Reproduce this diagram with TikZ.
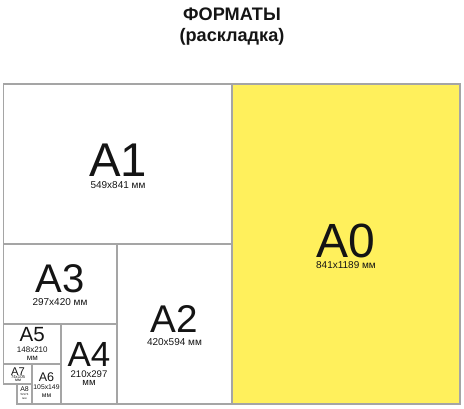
\documentclass[tikz,border=0pt]{standalone}
\usepackage{fontspec}
\setmainfont{Liberation Sans}
\definecolor{paperyellow}{RGB}{255,240,92}
\definecolor{edgegray}{RGB}{165,165,165}
\definecolor{ink}{RGB}{20,20,20}
\begin{document}
\begin{tikzpicture}[x=0.75pt,y=-0.75pt,
  sheet/.style={draw=edgegray,line width=0.8pt},
  lbl/.style={anchor=base,inner sep=0pt,text=ink,font=\fontsize{#1pt}{#1pt}\selectfont},
  ttl/.style={anchor=base,inner sep=0pt,text=ink,font=\fontsize{13.6pt}{14pt}\selectfont\bfseries}]
\useasboundingbox (0,0) rectangle (464,408);
% title
\node[ttl] (t1) at (232,20) {ФОРМАТЫ};
\node[ttl] (t2) at (232,41) {(раскладка)};
% sheets
\fill[paperyellow] (232,84) rectangle (460,404);
\draw[sheet] (232,84) rectangle (460,404);   % A0
\draw[sheet] (3.5,84) rectangle (232,244);   % A1
\draw[sheet] (117,244) rectangle (232,404);  % A2
\draw[sheet] (3.5,244) rectangle (117,324);  % A3
\draw[sheet] (61,324) rectangle (117,404);   % A4
\draw[sheet] (3.5,324) rectangle (61,364);   % A5
\draw[sheet] (32,364) rectangle (61,404);    % A6
\draw[sheet] (3.5,364) rectangle (32,384);   % A7
\draw[sheet] (17,384) rectangle (32,404);    % A8
% labels
\node[lbl=36] (a0) at (346,257.2) {A0};
\node[lbl=7.5] (a0s) at (346,268) {841x1189 мм};
\node[lbl=35.5] (a1) at (118,176.2) {A1};
\node[lbl=7.5] (a1s) at (118,188.7) {549x841 мм};
\node[lbl=29] (a2) at (174.5,332.2) {A2};
\node[lbl=7.5] (a2s) at (174.5,345.5) {420x594 мм};
\node[lbl=30] (a3) at (60,292.5) {A3};
\node[lbl=7.5] (a3s) at (60,305.5) {297x420 мм};
\node[lbl=26.2] (a4) at (89,366.2) {A4};
\node[lbl=7.2] (a4s) at (89,377) {210x297};
\node[lbl=7.2] (a4m) at (89,385.5) {мм};
\node[lbl=15.4] (a5) at (32.3,341.2) {A5};
\node[lbl=6] (a5s) at (32.3,352) {148x210};
\node[lbl=6] (a5m) at (32.3,360.7) {мм};
\node[lbl=9.4] (a6) at (46.5,381.7) {A6};
\node[lbl=5.1] (a6s) at (46.5,389.3) {105x149};
\node[lbl=5.1] (a6m) at (46.5,397) {мм};
\node[lbl=8.4] (a7) at (18,375) {A7};
\node[lbl=3.2] (a7s) at (18,378.7) {74x105};
\node[lbl=3.2] (a7m) at (18,381.7) {мм};
\node[lbl=5.2] (a8) at (24.5,391.5) {A8};
\node[lbl=2.2] (a8s) at (24.5,395) {52x74};
\node[lbl=2.2] (a8m) at (24.5,399.5) {мм};
\end{tikzpicture}
\end{document}
